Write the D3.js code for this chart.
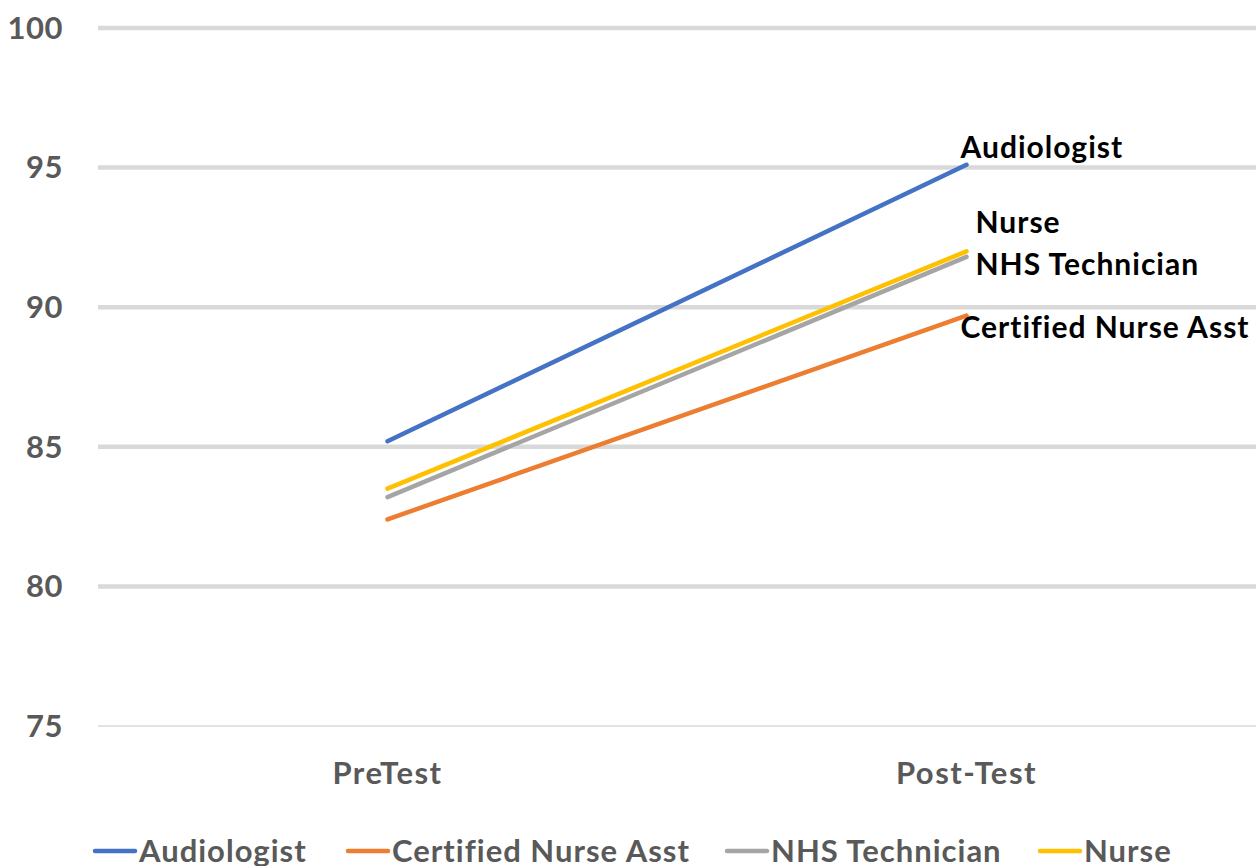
<!DOCTYPE html>
<html>
<head>
<meta charset="utf-8">
<script src="https://d3js.org/d3.v7.min.js"></script>
<style>
  body { margin: 0; background: #fff; }
  svg text { font-family: Lato, "Open Sans", sans-serif; font-weight: bold; }
</style>
</head>
<body>
<svg id="chart" width="1258" height="866"></svg>
<script>
// Data
const categories = ['PreTest', 'Post-Test'];
const seriesNames = ['Audiologist', 'Certified Nurse Asst', 'NHS Technician', 'Nurse'];
const audiologist = [85.2, 95.1];
const certifiedNurseAsst = [82.4, 89.7];
const nhsTechnician = [83.2, 91.8];
const nurse = [83.5, 92.0];
const yTicks = [75, 80, 85, 90, 95, 100];

const colors = ['#4472C4', '#ED7D31', '#A5A5A5', '#FFC000'];
const values = [audiologist, certifiedNurseAsst, nhsTechnician, nurse];

// end labels: small offsets so overlapping lines stay readable
const labelOffsets = [
    { dx: -6, dy: -7 },
    { dx: -6, dy: 22 },
    { dx: 9, dy: 18 },
    { dx: 9, dy: -18 }
];

const svg = d3.select('#chart');
const margin = { top: 28, right: 2, bottom: 140, left: 98 };
const width = 1258 - margin.left - margin.right;
const height = 866 - margin.top - margin.bottom;

const g = svg.append('g').attr('transform', `translate(${margin.left},${margin.top})`);

const x = d3.scalePoint().domain(categories).range([0, width]).padding(0.5);
const y = d3.scaleLinear().domain([75, 100]).range([height, 0]);

// Gridlines
g.selectAll('.grid')
    .data(yTicks)
    .enter().append('line')
    .attr('x1', 0)
    .attr('x2', width)
    .attr('y1', d => y(d))
    .attr('y2', d => y(d))
    .attr('stroke', '#d9d9d9')
    .attr('stroke-width', d => d === 75 ? 1.5 : 4.5);

// Y labels
g.selectAll('.ylabel')
    .data(yTicks)
    .enter().append('text')
    .attr('x', -35)
    .attr('y', d => y(d))
    .attr('dy', '0.35em')
    .attr('text-anchor', 'end')
    .attr('fill', '#595959')
    .attr('font-size', 31)
    .attr('letter-spacing', 0.5)
    .text(d => d);

// X labels
g.selectAll('.xlabel')
    .data(categories)
    .enter().append('text')
    .attr('x', d => x(d))
    .attr('y', height + 58)
    .attr('text-anchor', 'middle')
    .attr('fill', '#595959')
    .attr('font-size', 31)
    .attr('letter-spacing', 1.5)
    .text(d => d);

// Lines
const line = d3.line()
    .x((d, i) => x(categories[i]))
    .y(d => y(d));

g.selectAll('.series')
    .data(values)
    .enter().append('path')
    .attr('d', d => line(d))
    .attr('fill', 'none')
    .attr('stroke', (d, i) => colors[i])
    .attr('stroke-width', 4.5)
    .attr('stroke-linecap', 'round');

// End labels
g.selectAll('.endlabel')
    .data(values)
    .enter().append('text')
    .attr('x', (d, i) => x(categories[1]) + labelOffsets[i].dx)
    .attr('y', (d, i) => y(d[1]) + labelOffsets[i].dy)
    .attr('fill', '#000')
    .attr('font-size', 30)
    .attr('letter-spacing', 1)
    .text((d, i) => seriesNames[i]);

// Legend
const legendX = [95, 348, 727, 1040];
const legend = svg.selectAll('.legend')
    .data(seriesNames)
    .enter().append('g')
    .attr('transform', (d, i) => `translate(${legendX[i]},851)`);

legend.append('line')
    .attr('x1', 0)
    .attr('x2', 40)
    .attr('stroke', (d, i) => colors[i])
    .attr('stroke-width', 4.5)
    .attr('stroke-linecap', 'round');

legend.append('text')
    .attr('x', 44)
    .attr('y', 11)
    .attr('fill', '#595959')
    .attr('font-size', 31)
    .attr('letter-spacing', 1)
    .text(d => d);
</script>
</body>
</html>
